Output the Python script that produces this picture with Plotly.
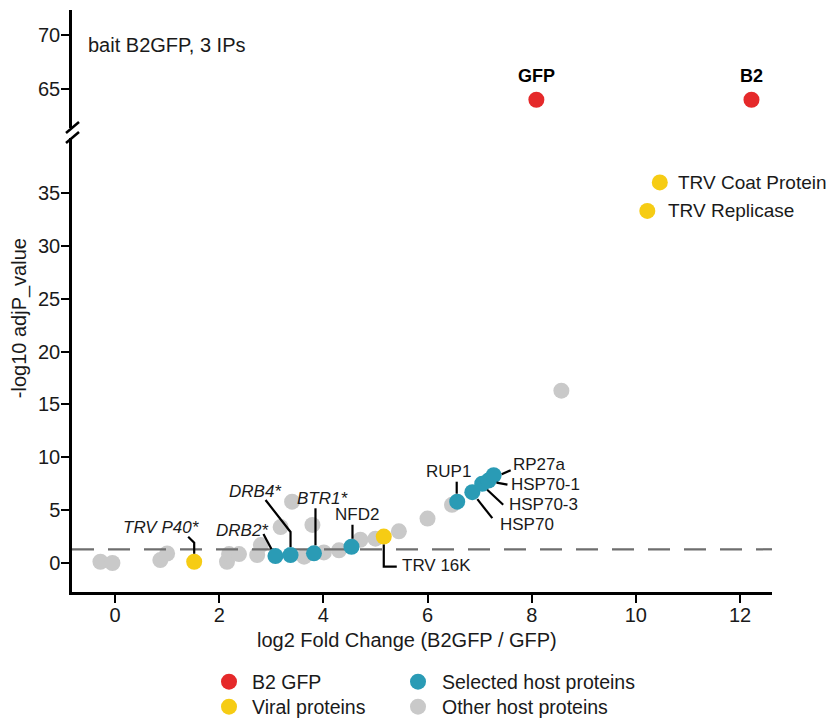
import plotly.graph_objects as go

# ---------------- data ----------------
other_x = [-0.28, -0.05, 0.87, 1.0, 2.15, 2.19, 2.38, 2.73, 2.8, 3.18, 3.4, 3.79, 3.63, 4.01, 4.3, 4.71, 5.0, 5.45, 6.0, 6.47, 8.57]
other_y = [0.12, 0.0, 0.28, 0.9, 0.12, 0.85, 0.85, 0.76, 1.7, 3.4, 5.8, 3.6, 0.6, 1.0, 1.2, 2.2, 2.3, 3.0, 4.2, 5.5, 16.3]

selected_names = ["DRB2*", "DRB4*", "BTR1*", "NFD2", "RUP1", "HSP70", "HSP70-3", "HSP70-1", "RP27a"]
selected_x = [3.08, 3.37, 3.82, 4.54, 6.57, 6.86, 7.05, 7.17, 7.27]
selected_y = [0.66, 0.76, 0.92, 1.54, 5.8, 6.7, 7.5, 7.8, 8.3]

viral_names = ["TRV P40*", "TRV 16K", "TRV Replicase", "TRV Coat Protein"]
viral_x = [1.52, 5.16, 10.22, 10.46]
viral_y = [0.12, 2.5, 33.3, 36.0]

bait_names = ["GFP", "B2"]
bait_x = [8.09, 12.22]
bait_y = [64.0, 64.0]

threshold = 1.3
x_ticks = [0, 2, 4, 6, 8, 10, 12]
y_ticks_low = [0, 5, 10, 15, 20, 25, 30, 35]
y_ticks_high = [65, 70]

legend_names = ["B2 GFP", "Viral proteins", "Selected host proteins", "Other host proteins"]

# ---------------- styles ----------------
FONT = "Liberation Sans, Arial, Helvetica, sans-serif"
RED, YELLOW, TEAL, GRAY = "#E5292A", "#F6CC14", "#2A9BB5", "#C9C9C9"
TXT = "#1a1a1a"
MS = 16
X_RANGE = [-0.826, 12.614]

# label layout: name -> (xshift, yshift, xanchor, italic, leader path in px offsets (y up))
label_style = {
    "TRV P40*": (7, 34, "right", True, "M 0,8 L 0,19 L -6,25"),
    "DRB2*": (-5, 26, "right", True, "M -12,22 L -4,7"),
    "DRB4*": (-8, 63, "right", True, "M -25,55 L 0,23 L 0,8"),
    "BTR1*": (9, 55, "center", True, "M 1.5,45 L 1.5,8"),
    "NFD2": (6, 32, "center", False, "M 1,22 L 1,8"),
    "TRV 16K": (17, -29, "left", False, "M 0,-8 L 0,-30 L 13,-30"),
    "RUP1": (-9, 30, "center", False, "M -0.5,20 L -0.5,8"),
    "HSP70": (27, -32, "left", False, "M 5,-7 L 20,-26"),
    "HSP70-3": (26, -21, "left", False, "M 5,-6 L 21,-21"),
    "HSP70-1": (22, -4, "left", False, "M 8,-2 L 19,-4"),
    "RP27a": (18, 11, "left", False, "M 8,1 L 17,5"),
}
big_label_style = {"TRV Coat Protein": 16, "TRV Replicase": 18.5}

# manual legend placement (paper coords): name -> (marker x, text x, y, colour)
legend_pos = {
    "B2 GFP": (0.2243, 0.2543, -0.1541, RED),
    "Viral proteins": (0.2243, 0.2543, -0.1971, YELLOW),
    "Selected host proteins": (0.4943, 0.5257, -0.1541, TEAL),
    "Other host proteins": (0.4943, 0.5257, -0.1971, GRAY),
}

fig = go.Figure()

fig.add_trace(go.Scatter(
    x=other_x, y=other_y, mode="markers", name="Other host proteins",
    marker=dict(color=GRAY, size=MS, line=dict(width=0)), hoverinfo="skip"))

fig.add_trace(go.Scatter(
    x=X_RANGE, y=[threshold, threshold], mode="lines",
    line=dict(color="#6E6E6E", width=2.2, dash="22px,14px"), hoverinfo="skip"))

fig.add_trace(go.Scatter(
    x=viral_x, y=viral_y, mode="markers", name="Viral proteins",
    marker=dict(color=YELLOW, size=MS, line=dict(width=0)), hoverinfo="skip"))

fig.add_trace(go.Scatter(
    x=selected_x, y=selected_y, mode="markers", name="Selected host proteins",
    marker=dict(color=TEAL, size=MS, line=dict(width=0)), hoverinfo="skip"))

fig.add_trace(go.Scatter(
    x=bait_x, y=bait_y, mode="markers", name="B2 GFP", xaxis="x2", yaxis="y2",
    marker=dict(color=RED, size=MS, line=dict(width=0)), hoverinfo="skip"))

annotations = []
shapes = []

def add_label(name, px, py):
    xs, ys, xa, ital, path = label_style[name]
    txt = f"<i>{name}</i>" if ital else name
    annotations.append(dict(x=px, y=py, xref="x", yref="y", text=txt, showarrow=False,
                            xanchor=xa, yanchor="middle", xshift=xs, yshift=ys, borderpad=0,
                            font=dict(family=FONT, size=17, color=TXT)))
    shapes.append(dict(type="path", xref="x", yref="y", xsizemode="pixel", ysizemode="pixel",
                       xanchor=px, yanchor=py, path=path,
                       line=dict(color="black", width=2.2)))

for n, x, y in zip(selected_names, selected_x, selected_y):
    add_label(n, x, y)
for n, x, y in zip(viral_names, viral_x, viral_y):
    if n in label_style:
        add_label(n, x, y)
    else:
        annotations.append(dict(x=x, y=y, xref="x", yref="y", text=n, showarrow=False,
                                xanchor="left", yanchor="middle", xshift=big_label_style[n],
                                font=dict(family=FONT, size=19, color=TXT)))
for n, x, y in zip(bait_names, bait_x, bait_y):
    annotations.append(dict(x=x, y=y, xref="x2", yref="y2", text=f"<b>{n}</b>", showarrow=False,
                            xanchor="center", yanchor="middle", yshift=24,
                            font=dict(family=FONT, size=18, color="black")))

# text annotations
annotations.append(dict(x=0.02, y=0.9399, xref="paper", yref="paper", text="bait B2GFP, 3 IPs",
                        showarrow=False, xanchor="left", yanchor="middle",
                        font=dict(family=FONT, size=20, color=TXT)))
annotations.append(dict(x=0.4786, y=-0.083, xref="paper", yref="paper",
                        text="log2 Fold Change (B2GFP / GFP)", showarrow=False,
                        xanchor="center", yanchor="middle",
                        font=dict(family=FONT, size=20, color=TXT)))
annotations.append(dict(x=-0.074, y=0.4708, xref="paper", yref="paper", textangle=-90,
                        text="-log10 adjP_value", showarrow=False,
                        xanchor="center", yanchor="middle",
                        font=dict(family=FONT, size=20, color=TXT)))

# manual legend
for n in legend_names:
    mx, tx, ly, col = legend_pos[n]
    shapes.append(dict(type="circle", xref="paper", yref="paper", xsizemode="pixel", ysizemode="pixel",
                       xanchor=mx, yanchor=ly, x0=-8, x1=8, y0=-8, y1=8,
                       fillcolor=col, line=dict(width=0)))
    annotations.append(dict(x=tx, y=ly, xref="paper", yref="paper", text=n, showarrow=False,
                            xanchor="left", yanchor="middle",
                            font=dict(family=FONT, size=19.5, color=TXT)))

# axis break marks
for (x0, y0, x1, y1) in [(-0.00857, 0.7887, 0.01, 0.8076), (-0.00857, 0.7715, 0.01, 0.7904)]:
    shapes.append(dict(type="line", xref="paper", yref="paper", x0=x0, y0=y0, x1=x1, y1=y1,
                       line=dict(color="black", width=2.5)))

axis_common = dict(showline=True, linecolor="black", linewidth=2.5, ticks="outside",
                   ticklen=8, tickwidth=2, tickcolor="black", showgrid=False, zeroline=False,
                   tickfont=dict(family=FONT, size=20, color=TXT))

fig.update_layout(
    width=828, height=710,
    margin=dict(l=64, r=64, t=2, b=126),
    paper_bgcolor="white", plot_bgcolor="white",
    font=dict(family=FONT, size=20, color=TXT),
    showlegend=False,
    xaxis=dict(range=X_RANGE, domain=[0, 1], anchor="y", tickvals=x_ticks,
               ticklabelstandoff=-5, **axis_common),
    yaxis=dict(range=[-2.74, 40.2], domain=[0, 0.7801], anchor="x", tickvals=y_ticks_low,
               ticklabelstandoff=-3, **axis_common),
    xaxis2=dict(range=X_RANGE, domain=[0, 1], anchor="y2", matches="x", visible=False),
    yaxis2=dict(range=[61.39, 72.31], domain=[0.7973, 1], anchor="x2", tickvals=y_ticks_high,
                ticklabelstandoff=-3, **axis_common),
    annotations=annotations,
    shapes=shapes,
)

fig.write_html("out.html")
